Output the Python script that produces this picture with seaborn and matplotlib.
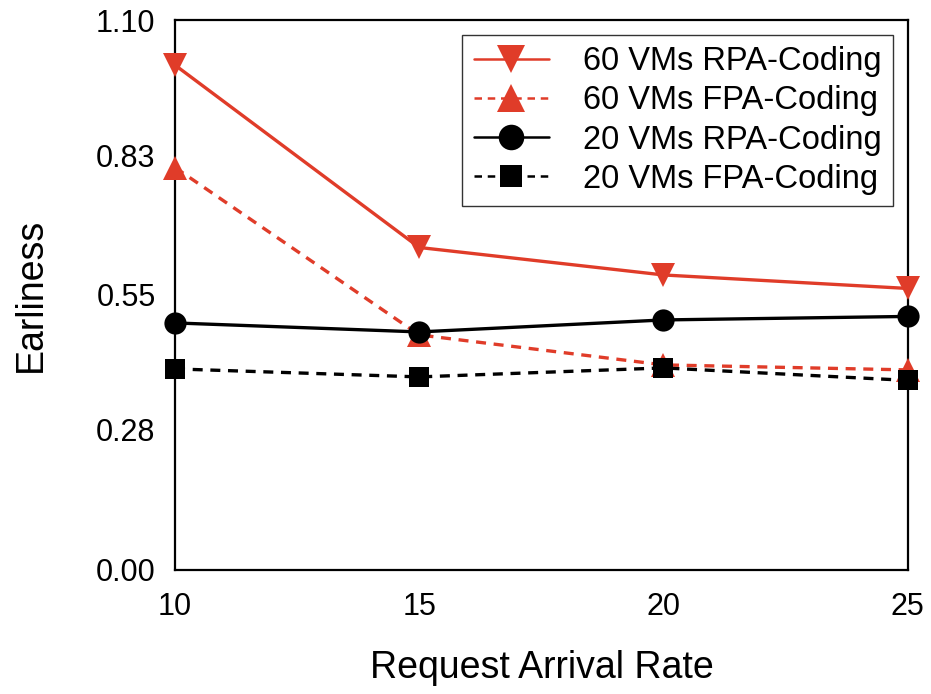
import pandas as pd
import matplotlib
matplotlib.use('Agg')
import matplotlib.pyplot as plt
import seaborn as sns

rates = [10, 15, 20, 25]
rpa_60 = [1.01, 0.645, 0.59, 0.563]
fpa_60 = [0.805, 0.47, 0.41, 0.40]
rpa_20 = [0.494, 0.476, 0.50, 0.507]
fpa_20 = [0.402, 0.386, 0.404, 0.379]
labels = ['60 VMs RPA-Coding', '60 VMs FPA-Coding', '20 VMs RPA-Coding', '20 VMs FPA-Coding']
yticks = [0.00, 0.28, 0.55, 0.83, 1.10]

sns.set_style('white')
plt.rcParams['font.family'] = ['Liberation Sans', 'DejaVu Sans']

red = '#E03C29'
styles = [
    (rpa_60, red, 'v', '-', 17),
    (fpa_60, red, '^', (0, (3.0, 2.3)), 17),
    (rpa_20, 'black', 'o', '-', 16),
    (fpa_20, 'black', 's', (0, (3.0, 2.3)), 14),
]

fig, ax = plt.subplots(figsize=(9.31, 6.94), dpi=100)
fig.subplots_adjust(left=0.188, right=0.975, top=0.971, bottom=0.179)

for (vals, color, marker, ls, ms), label in zip(styles, labels):
    df = pd.DataFrame({'rate': rates, 'earliness': vals})
    sns.lineplot(data=df, x='rate', y='earliness', ax=ax, color=color,
                 marker=marker, markersize=ms, markeredgewidth=0,
                 linestyle=ls, linewidth=2.4, label=label, clip_on=False,
                 zorder=3)

ax.set_xlim(10, 25)
ax.set_ylim(0, 1.10)
ax.set_xticks(rates)
ax.set_yticks(yticks)
ax.set_yticklabels([f'{t:.2f}' for t in yticks])
ax.tick_params(axis='both', length=0, labelsize=22, colors='black')
ax.tick_params(axis='y', pad=14)
ax.tick_params(axis='x', pad=16)
ax.set_xlabel('Request Arrival Rate', fontsize=27, labelpad=20, color='black')
ax.set_ylabel('Earliness', fontsize=27, labelpad=34, color='black')
for sp in ax.spines.values():
    sp.set_color('black')
    sp.set_linewidth(1.6)

leg = ax.legend(loc='upper right', fontsize=23.5, frameon=True, fancybox=False,
                handlelength=2.3, handletextpad=1.05, labelspacing=0.25,
                borderpad=0.35, borderaxespad=0.45, markerscale=1.15)
leg.get_frame().set_edgecolor('black')
leg.get_frame().set_linewidth(1.0)
for h in leg.get_lines():
    h.set_linewidth(1.8)
for t in leg.get_texts():
    t.set_color('black')

plt.savefig('out.png', dpi=100)
